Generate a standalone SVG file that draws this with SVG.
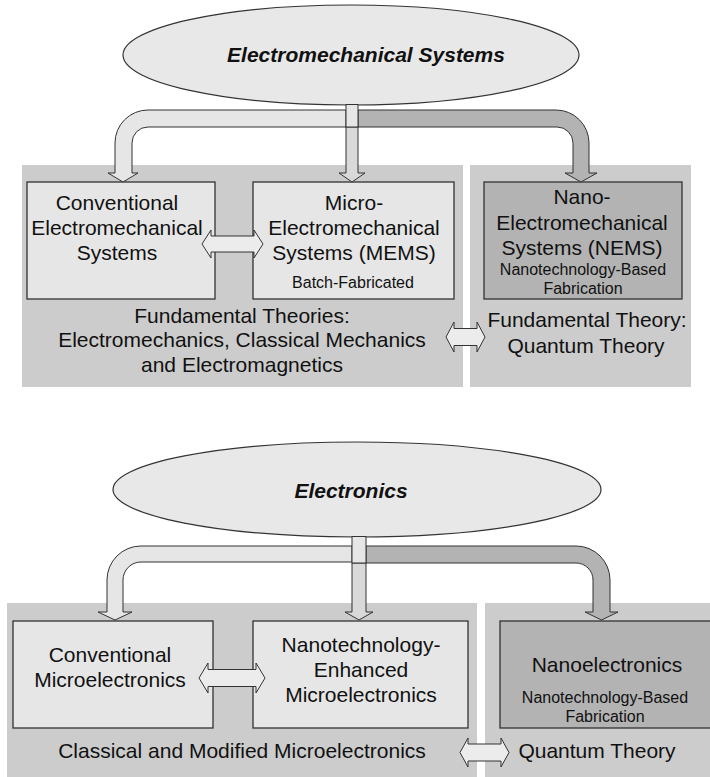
<svg xmlns="http://www.w3.org/2000/svg" width="710" height="777" viewBox="0 0 710 777">
<style>
.panel{fill:#cccccc;stroke:none}
.box{fill:#e6e6e6;stroke:#333;stroke-width:1.3}
.dbox{fill:#b3b3b3;stroke:#333;stroke-width:1.3}
.ell{fill:#e8e8e8;stroke:#333;stroke-width:1.2}
.pl{fill:#e6e6e6;stroke:#333;stroke-width:1}
.pd{fill:#b3b3b3;stroke:#333;stroke-width:1}
.pm{fill:#d9d9d9;stroke:#333;stroke-width:1}
.dbl{fill:#ececec;stroke:#333;stroke-width:1}
text{font-family:"Liberation Sans",Arial,sans-serif;fill:#111;text-anchor:middle}
.t{font-size:21px}
.s{font-size:16px}
.h{font-size:21px;font-weight:bold;font-style:italic}
</style>
<rect width="710" height="777" fill="#fff"/>

<g id="panels">
<rect class="panel" x="22" y="165" width="441" height="222"/>
<rect class="panel" x="470" y="165" width="221" height="222"/>
<rect class="panel" x="7" y="603" width="470" height="174"/>
<rect class="panel" x="485" y="603" width="227" height="174"/>
</g>

<g id="em-systems">
<ellipse class="ell" cx="351" cy="55" rx="228" ry="50"/>
<text class="h" x="366" y="62">Electromechanical Systems</text>
</g>

<g id="conv-em">
<rect class="box" x="27" y="182" width="188" height="117"/>
<text class="t" x="117" y="210">Conventional</text>
<text class="t" x="117" y="235">Electromechanical</text>
<text class="t" x="117" y="260">Systems</text>
</g>

<g id="mems">
<rect class="box" x="253" y="182" width="201" height="117"/>
<text class="t" x="354" y="210">Micro-</text>
<text class="t" x="354" y="235">Electromechanical</text>
<text class="t" x="354" y="260">Systems (MEMS)</text>
<text class="s" x="353" y="288">Batch-Fabricated</text>
</g>

<g id="nems">
<rect class="dbox" x="484" y="182" width="198" height="117"/>
<text class="t" x="582" y="204">Nano-</text>
<text class="t" x="582" y="230">Electromechanical</text>
<text class="t" x="582" y="255">Systems (NEMS)</text>
<text class="s" x="583" y="275">Nanotechnology-Based</text>
<text class="s" x="583" y="294">Fabrication</text>
</g>

<g id="theories-classical">
<text class="t" x="242" y="323">Fundamental Theories:</text>
<text class="t" x="242" y="347">Electromechanics, Classical Mechanics</text>
<text class="t" x="242" y="372">and Electromagnetics</text>
</g>

<g id="theory-quantum">
<text class="t" x="587" y="327">Fundamental Theory:</text>
<text class="t" x="586" y="353">Quantum Theory</text>
</g>

<g id="electronics">
<ellipse class="ell" cx="357" cy="489.5" rx="244" ry="47.5"/>
<text class="h" x="351" y="498">Electronics</text>
</g>

<g id="conv-micro">
<rect class="box" x="13" y="621" width="200" height="107"/>
<text class="t" x="110" y="662">Conventional</text>
<text class="t" x="110" y="687">Microelectronics</text>
</g>

<g id="nano-enhanced">
<rect class="box" x="253" y="621" width="215" height="107"/>
<text class="t" x="361" y="652">Nanotechnology-</text>
<text class="t" x="361" y="677">Enhanced</text>
<text class="t" x="361" y="702">Microelectronics</text>
</g>

<g id="nanoelectronics">
<rect class="dbox" x="500" y="621" width="216" height="107"/>
<text class="t" x="607" y="672">Nanoelectronics</text>
<text class="s" x="605" y="703">Nanotechnology-Based</text>
<text class="s" x="605" y="722">Fabrication</text>
</g>

<g id="classical-modified">
<text class="t" x="242" y="758">Classical and Modified Microelectronics</text>
</g>

<g id="quantum">
<text class="t" x="597" y="758">Quantum Theory</text>
</g>

<g id="connectors">
<path class="pl" d="M346,110 H148 A33,33 0 0 0 115,143 V173 H108 L123,182 L138,173 H132 V143 A16,16 0 0 1 148,127 H346 Z"/>
<path class="pd" d="M358,110 H556 A33,33 0 0 1 589,143 V173 H597 L581,182 L565,173 H573 V143 A16,16 0 0 0 557,127 H358 Z"/>
<path class="pm" d="M346,127 V173 H339 L352,182 L365,173 H358 V127 Z"/>
<rect class="pl" x="346" y="104.5" width="12" height="22.5"/>

<path class="pl" d="M352,546 H141 A34,34 0 0 0 107,580 V612 H98 L115,620 L132,612 H123 V580 A18,18 0 0 1 141,562 H352 Z"/>
<path class="pd" d="M366,546 H576 A34,34 0 0 1 610,580 V612 H618 L601.5,620 L585,612 H593 V580 A17,17 0 0 0 576,563 H366 Z"/>
<path class="pm" d="M352,563 V612 H345 L359,620 L373,612 H366 V563 Z"/>
<rect class="pl" x="352" y="536.5" width="14" height="26.5"/>

<path class="dbl" d="M202,244 L211,230 V236 H254 V230 L263,244 L254,258 V252 H211 V258 Z"/>
<path class="dbl" d="M446,337 L454,322 V328.5 H477 V322 L485,337 L477,352 V345.5 H454 V352 Z"/>
<path class="dbl" d="M199,678 L208,663 V669.5 H256 V663 L265,678 L256,693 V686.5 H208 V693 Z"/>
<path class="dbl" d="M460,752.5 L468,738 V744 H501 V738 L509,752.5 L501,767 V761 H468 V767 Z"/>
</g>
</svg>
